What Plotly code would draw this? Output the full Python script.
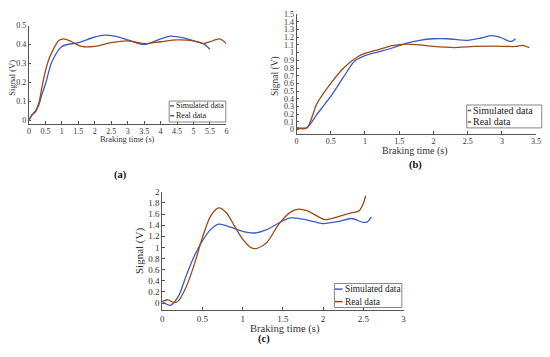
import plotly.graph_objects as go

# ---------------- data ----------------
# Panel (a)
a_sim_t = [0, 0.1, 0.2, 0.3, 0.4, 0.5, 0.7, 1.0, 1.5, 2.0, 2.3, 2.6, 3.0, 3.5, 4.0, 4.3, 4.7, 5.0, 5.3, 5.5]
a_sim_v = [0, 0.03, 0.045, 0.08, 0.14, 0.19, 0.31, 0.39, 0.41, 0.44, 0.45, 0.445, 0.425, 0.40, 0.43, 0.445, 0.435, 0.42, 0.405, 0.375]
a_real_t = [0, 0.1, 0.2, 0.3, 0.4, 0.5, 0.6, 0.7, 0.9, 1.05, 1.3, 1.6, 2.0, 2.5, 3.0, 3.5, 4.0, 4.5, 5.0, 5.3, 5.5, 5.8, 6.0]
a_real_v = [0, 0.03, 0.05, 0.09, 0.18, 0.26, 0.32, 0.36, 0.42, 0.43, 0.415, 0.39, 0.39, 0.41, 0.42, 0.405, 0.415, 0.425, 0.42, 0.405, 0.415, 0.43, 0.405]

# Panel (b)
b_sim_t = [0, 0.15, 0.3, 0.5, 0.7, 0.85, 1.0, 1.2, 1.4, 1.6, 1.8, 2.0, 2.2, 2.5, 2.7, 2.85, 3.0, 3.1, 3.15, 3.2]
b_sim_v = [0.025, 0.025, 0.2, 0.43, 0.70, 0.89, 0.96, 1.01, 1.06, 1.12, 1.16, 1.18, 1.18, 1.16, 1.19, 1.22, 1.19, 1.15, 1.15, 1.18]
b_real_t = [0, 0.15, 0.3, 0.5, 0.7, 0.9, 1.0, 1.2, 1.4, 1.6, 1.8, 2.0, 2.3, 2.6, 2.9, 3.2, 3.3, 3.4]
b_real_v = [0.02, 0.02, 0.34, 0.60, 0.81, 0.95, 0.99, 1.04, 1.09, 1.11, 1.10, 1.08, 1.065, 1.08, 1.085, 1.08, 1.095, 1.065]

# Panel (c)
c_sim_t = [0, 0.1, 0.2, 0.3, 0.4, 0.5, 0.6, 0.7, 0.8, 0.9, 1.0, 1.15, 1.3, 1.5, 1.6, 1.75, 2.0, 2.2, 2.35, 2.5, 2.55, 2.6]
c_sim_v = [0.03, -0.04, 0.12, 0.50, 0.85, 1.12, 1.32, 1.42, 1.39, 1.34, 1.29, 1.26, 1.32, 1.48, 1.53, 1.51, 1.43, 1.47, 1.52, 1.45, 1.46, 1.55]
c_real_t = [0, 0.07, 0.15, 0.2, 0.3, 0.4, 0.5, 0.6, 0.7, 0.8, 0.9, 1.0, 1.1, 1.17, 1.3, 1.45, 1.6, 1.7, 1.8, 2.0, 2.05, 2.2, 2.35, 2.45, 2.5, 2.53]
c_real_v = [0.03, 0.06, 0.01, 0.04, 0.30, 0.70, 1.18, 1.56, 1.71, 1.62, 1.38, 1.15, 1.0, 0.98, 1.09, 1.42, 1.64, 1.69, 1.66, 1.51, 1.50, 1.56, 1.62, 1.66, 1.79, 1.93]

a_xticks = [0, 0.5, 1, 1.5, 2, 2.5, 3, 3.5, 4, 4.5, 5, 5.5, 6]
a_xlabels = ["0", "0.5", "1", "1.5", "2", "2.5", "3", "3.5", "4", "4.5", "5", "5.5", "6"]
a_yticks = [0, 0.1, 0.2, 0.3, 0.4, 0.5]
a_ylabels = ["0", "0.1", "0.2", "0.3", "0.4", "0.5"]
b_xticks = [0, 0.5, 1, 1.5, 2, 2.5, 3, 3.5]
b_xlabels = ["0", "0.5", "1", "1.5", "2", "2.5", "3", "3.5"]
b_yticks = [i / 10 for i in range(16)]
b_ylabels = ["0", "0.1", "0.2", "0.3", "0.4", "0.5", "0.6", "0.7", "0.8", "0.9", "1", "1.1", "1.2", "1.3", "1.4", "1.5"]
c_xticks = [0, 0.5, 1, 1.5, 2, 2.5, 3]
c_xlabels = ["0", "0.5", "1", "1.5", "2", "2.5", "3"]
c_yticks = [0, 0.2, 0.4, 0.6, 0.8, 1, 1.2, 1.4, 1.6, 1.8, 2]
c_ylabels = ["0", "0.2", "0.4", "0.6", "0.8", "1", "1.2", "1.4", "1.6", "1.8", "2"]

series_names = ["Simulated data", "Real data"]

# ---------------- style ----------------
W, H = 550, 357
BLUE = "#3b5cc4"
BROWN = "#9a4a18"
FONT = "Liberation Serif"
TXT = "#333333"
AX = "#555555"


def px(x):
    return x / W


def py(y):
    return 1 - y / H


fig = go.Figure()

panels = [
    dict(sim=(a_sim_t, a_sim_v), real=(a_real_t, a_real_v), xa="x", ya="y",
         xdom=(27.3, 227.3), ydom=(120.7, 21), xr=[0, 6], yr=[-0.018, 0.5],
         xt=(a_xticks, a_xlabels), yt=(a_yticks, a_ylabels), tfs=8),
    dict(sim=(b_sim_t, b_sim_v), real=(b_real_t, b_real_v), xa="x2", ya="y2",
         xdom=(298.3, 541), ydom=(131, 9.3), xr=[0, 3.5], yr=[-0.055, 1.5],
         xt=(b_xticks, b_xlabels), yt=(b_yticks, b_ylabels), tfs=8),
    dict(sim=(c_sim_t, c_sim_v), real=(c_real_t, c_real_v), xa="x3", ya="y3",
         xdom=(162.3, 406.7), ydom=(310, 190), xr=[0, 3], yr=[-0.12, 2],
         xt=(c_xticks, c_xlabels), yt=(c_yticks, c_ylabels), tfs=9),
]

layout_axes = {}
for i, p in enumerate(panels):
    fig.add_trace(go.Scatter(x=p["sim"][0], y=p["sim"][1], mode="lines", name=series_names[0],
                             line=dict(color=BLUE, width=1.3, shape="spline", smoothing=0.8),
                             xaxis=p["xa"], yaxis=p["ya"], showlegend=False))
    fig.add_trace(go.Scatter(x=p["real"][0], y=p["real"][1], mode="lines", name=series_names[1],
                             line=dict(color=BROWN, width=1.3, shape="spline", smoothing=0.8),
                             xaxis=p["xa"], yaxis=p["ya"], showlegend=False))
    sfx = "" if i == 0 else str(i + 1)
    common = dict(showgrid=False, zeroline=False, showline=True, linecolor=AX, linewidth=1,
                  ticks="inside", ticklen=2.5, tickcolor=AX,
                  tickfont=dict(family=FONT, size=p["tfs"], color=TXT))
    layout_axes["xaxis" + sfx] = dict(
        domain=[px(p["xdom"][0]), px(p["xdom"][1])], range=p["xr"],
        anchor="y" + sfx, tickvals=p["xt"][0], ticktext=p["xt"][1], **common)
    layout_axes["yaxis" + sfx] = dict(
        domain=[py(p["ydom"][0]), py(p["ydom"][1])], range=p["yr"],
        anchor="x" + sfx, tickvals=p["yt"][0], ticktext=p["yt"][1], **common)

fig.update_layout(**layout_axes)

shapes = []
annotations = []

# legends: box (x0,x1,y0,y1), line sample x range, entry y centres, font size
legends = [
    dict(box=(169.3, 226.7, 97.7, 119), lx=(170.3, 174.2), ys=(102.6, 112.6), fs=8),
    dict(box=(470.7, 546.7, 101.7, 125), lx=(471.7, 475.2), ys=(107.3, 119), fs=10),
    dict(box=(336.7, 405, 283.3, 307.7), lx=(337.3, 345), ys=(289, 301.7), fs=9.3),
]
for lg in legends:
    x0, x1, y0, y1 = lg["box"]
    shapes.append(dict(type="rect", xref="paper", yref="paper", x0=px(x0), x1=px(x1),
                       y0=py(y1), y1=py(y0), line=dict(color="#666666", width=0.8),
                       fillcolor="white", layer="above"))
    for name, col, yc in zip(series_names, [BLUE, BROWN], lg["ys"]):
        shapes.append(dict(type="line", xref="paper", yref="paper", x0=px(lg["lx"][0]), x1=px(lg["lx"][1]),
                           y0=py(yc), y1=py(yc), line=dict(color=col, width=1.5), layer="above"))
        annotations.append(dict(text=name, xref="paper", yref="paper", x=px(lg["lx"][1]), y=py(yc),
                                xanchor="left", yanchor="middle", showarrow=False,
                                font=dict(family=FONT, size=lg["fs"], color="#222222")))

# axis titles (text, x centre px, y centre px, rotation, size)
titles = [
    ("Signal (V)", 10, 74, -90, 8.5),
    ("Braking time (s)", 127, 137, 0, 8.3),
    ("Signal (V)", 277.8, 72, -90, 9.5),
    ("Braking time (s)", 418.7, 148.5, 0, 10),
    ("Signal (V)", 140, 250, -90, 11),
    ("Braking time (s)", 287, 330, 0, 10.6),
]
for t, x, y, rot, fs in titles:
    annotations.append(dict(text=t, xref="paper", yref="paper", x=px(x), y=py(y),
                            xanchor="center", yanchor="middle", textangle=rot, showarrow=False,
                            font=dict(family=FONT, size=fs, color="#333333")))

for t, x, y in [("<b>(a)</b>", 120, 172.7), ("<b>(b)</b>", 419, 162.7), ("<b>(c)</b>", 265.7, 339.3)]:
    annotations.append(dict(text=t, xref="paper", yref="paper", x=px(x), y=py(y),
                            xanchor="center", yanchor="middle", showarrow=False,
                            font=dict(family=FONT, size=10.5, color="#111111")))

fig.update_layout(width=W, height=H, autosize=False, margin=dict(l=0, r=0, t=0, b=0),
                  paper_bgcolor="white", plot_bgcolor="white",
                  shapes=shapes, annotations=annotations, showlegend=False)

fig.write_html("out.html", config={"displayModeBar": False},
               post_script="document.body.style.margin='0';document.body.style.overflow='hidden';")
